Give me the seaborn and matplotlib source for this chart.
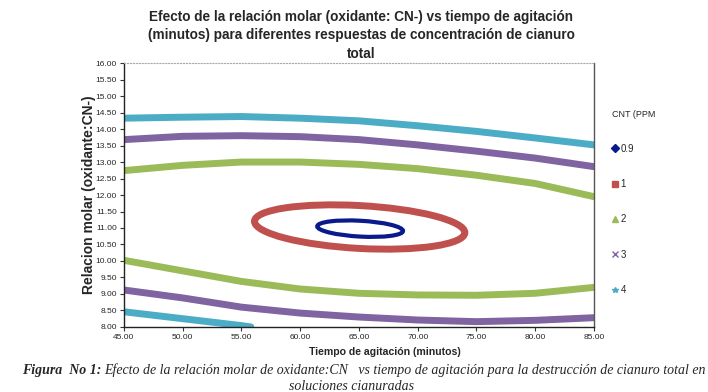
import numpy as np
import pandas as pd
import matplotlib
matplotlib.use("Agg")
import matplotlib.pyplot as plt
from matplotlib.patches import Ellipse
from matplotlib.lines import Line2D
import seaborn as sns

# contour branches: tiempo (min) vs relacion molar
x_full = [45, 50, 55, 60, 65, 70, 75, 80, 85]
y_4_top = [14.33, 14.36, 14.38, 14.33, 14.25, 14.10, 13.93, 13.73, 13.52]
y_3_top = [13.68, 13.78, 13.80, 13.77, 13.68, 13.52, 13.33, 13.12, 12.86]
y_2_top = [12.74, 12.90, 13.00, 13.00, 12.93, 12.80, 12.60, 12.35, 11.95]
y_2_bot = [10.02, 9.70, 9.38, 9.15, 9.02, 8.97, 8.96, 9.02, 9.20]
y_3_bot = [9.12, 8.88, 8.60, 8.42, 8.30, 8.21, 8.16, 8.20, 8.28]
x_4_bot = [45, 50, 55, 55.8]
y_4_bot = [8.46, 8.25, 8.04, 8.00]

# closed contours (ellipses): centre, width, height, angle
ell_09 = dict(xy=(65.1, 10.98), width=7.3, height=0.48, angle=-1.1)
ell_1 = dict(xy=(65.06, 11.03), width=17.9, height=1.3, angle=-1.1)

levels = ["0.9", "1", "2", "3", "4"]
colors = {"0.9": "#0a1a8c", "1": "#c0504d", "2": "#9bbb59", "3": "#8064a2", "4": "#4bacc6"}
markers = {"0.9": "D", "1": "s", "2": "^", "3": "x", "4": "*"}

rows = []
for lev, br, xs, ys in [("4", "top", x_full, y_4_top), ("3", "top", x_full, y_3_top),
                        ("2", "top", x_full, y_2_top), ("2", "bot", x_full, y_2_bot),
                        ("3", "bot", x_full, y_3_bot), ("4", "bot", x_4_bot, y_4_bot)]:
    for a, b in zip(xs, ys):
        rows.append({"tiempo": a, "relacion": b, "CNT": lev, "rama": lev + br})
df = pd.DataFrame(rows)

sns.set_style("white")
plt.rcParams["font.family"] = ["Liberation Sans", "DejaVu Sans"]

fig = plt.figure(figsize=(7.08, 3.92), dpi=100)
ax = fig.add_axes([0.175, 0.166, 0.664, 0.673])

sns.lineplot(data=df, x="tiempo", y="relacion", hue="CNT", units="rama", estimator=None,
             palette=colors, linewidth=5, sort=False, legend=False, ax=ax)

ax.add_patch(Ellipse(**ell_1, fill=False, edgecolor=colors["1"], linewidth=5))
ax.add_patch(Ellipse(**ell_09, fill=False, edgecolor=colors["0.9"], linewidth=3))

ax.set_xlim(45, 85)
ax.set_ylim(8, 16)
ax.set_xticks(np.arange(45, 86, 5))
ax.set_yticks(np.arange(8, 16.01, 0.5))
ax.xaxis.set_major_formatter(matplotlib.ticker.FormatStrFormatter("%.2f"))
ax.yaxis.set_major_formatter(matplotlib.ticker.FormatStrFormatter("%.2f"))
ax.tick_params(axis="both", labelsize=6, length=3, width=0.8, color="#333333", pad=2,
               direction="out", bottom=True, left=True)

for s in ["left", "bottom"]:
    ax.spines[s].set_color("#222222")
    ax.spines[s].set_linewidth(1)
ax.spines["right"].set_color("#555555")
ax.spines["right"].set_linewidth(1)
ax.spines["top"].set_color("#aaaaaa")
ax.spines["top"].set_linewidth(0.8)
ax.spines["top"].set_linestyle(":")

ax.set_xlabel("Tiempo de agitación (minutos)", fontsize=7.6, fontweight="bold")
ax.xaxis.set_label_coords(0.555, -0.075)
ax.set_ylabel("Relacion molar (oxidante:CN-)", fontsize=10, fontweight="bold", labelpad=0)

fig.text(0.51, 0.975, "Efecto de la relación molar (oxidante: CN-) vs tiempo de agitación\n"
         "(minutos) para diferentes respuestas de concentración de cianuro\ntotal",
         ha="center", va="top", fontsize=9.8, fontweight="bold", linespacing=1.4)

handles = [Line2D([], [], linestyle="none", marker=markers[l], color=colors[l],
                  markersize=4, markeredgewidth=1) for l in levels]
fig.legend(handles, levels, title="CNT (PPM", loc="upper left", bbox_to_anchor=(0.857, 0.733),
           frameon=False, fontsize=7, title_fontsize=6.5, handlelength=0.6, handletextpad=0.3,
           labelspacing=2.6, borderpad=0, alignment="left")

cap1 = fig.text(0.031, 0.056, "Figura  No 1:", ha="left", va="center", fontsize=10,
                fontstyle="italic", fontweight="bold", family="Liberation Serif")
fig.canvas.draw()
bb = cap1.get_window_extent()
fig.text(bb.x1 / fig.bbox.width + 0.004, 0.056,
         "Efecto de la relación molar de oxidante:CN   vs tiempo de agitación para "
         "la destrucción de cianuro total en", ha="left", va="center", fontsize=10,
         fontstyle="italic", family="Liberation Serif")
fig.text(0.497, 0.014, "soluciones cianuradas", ha="center", va="center", fontsize=10,
         fontstyle="italic", family="Liberation Serif")

fig.savefig("out.png", dpi=100)
